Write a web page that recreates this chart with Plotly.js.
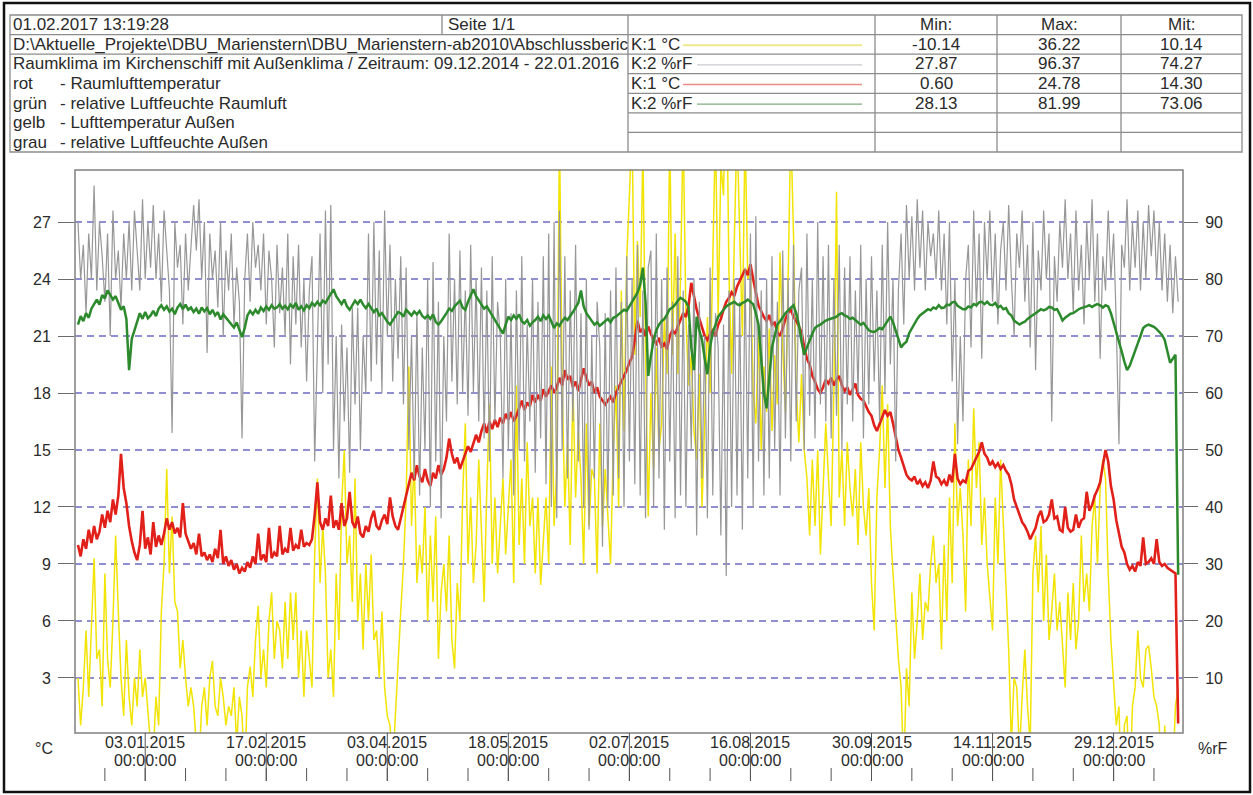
<!DOCTYPE html>
<html>
<head>
<meta charset="utf-8">
<script src="https://cdn.plot.ly/plotly-3.0.1.min.js"></script>
<style>
  html, body { margin: 0; padding: 0; background: #ffffff; }
  #chart { width: 1253px; height: 795px; }
</style>
</head>
<body>
<div id="chart"></div>
<script>
// ---------------- DATA ----------------
// Sampling: all series start 09.12.2014, one value per day.
const seriesStart = '2014-12-09';
const stepDays = 1;

// gelb - Lufttemperatur Außen (°C, left axis)
const tempOutside = [
  3, 0.5, 2.5, 5.5, 2, 6, 9.3, 4, 4.5, 1.5,
  8.5, 4, 2.5, 6, 10.5, 6.5, 3, 1, 5, 2,
  0.5, 3, 1.5, 4.5, 2, 3, 1, -0.5, -1, 2,
  0.5, 6.5, 9, 14, 8.5, 11.5, 7, 6.5, 3.5, 5,
  3, 1.5, 2.5, 1.5, -0.5, -1.5, 1.5, 2.5, 0.5, 3,
  3.9, 1.5, 1, 3, 2, 0.5, 1.5, 1, 2.5, -0.5,
  2, 1, -2, 2.5, 3.6, 2, 5, 6.8, 3, 4.5,
  2.5, 6, 7.5, 4, 6, 5.5, 3.5, 7, 4, 7.5,
  5, 7.5, 3, 5.5, 2, 5.5, 4, 2.5, 9.5, 13.5,
  8, 11, 8.5, 3, 4.5, 2, 8.5, 5, 12, 15,
  9, 10.5, 7, 13.5, 6, 8.5, 4.5, 9, 6, 9.5,
  5, 5.5, 3, 6.5, 2.5, 1, 0.5, -1.5, 1, 4,
  6.5, 9, 12.5, 19.4, 11, 14.5, 8, 10, 8.5, 12,
  6, 10.5, 7, 11.5, 4, 7.5, 9, 6.5, 10.5, 5,
  3.5, 8, 6, 12.5, 16.4, 9, 12.5, 8, 10, 14.5,
  10.5, 7, 13, 17.4, 9, 12.5, 8.5, 11, 13.5, 9.5,
  12, 14.5, 8, 18.4, 10, 13.5, 9, 15.4, 11, 12.5,
  8.5, 12.5, 7.9, 10, 12.5, 9, 19.4, 11, 14, 32,
  18.4, 12, 15.4, 10, 18.4, 12.5, 16, 13.5, 9, 16.4,
  11, 14, 13.5, 8.5, 16.4, 11, 14, 11.5, 9, 15,
  18.4, 12, 23.4, 16, 25, 28.4, 32, 20, 26, 22,
  31, 20, 11.5, 18, 14, 20.4, 15, 16.4, 22, 19,
  32, 20, 26.4, 19, 24, 32, 22, 18.4, 20, 16,
  14.5, 19, 12, 16.4, 22, 18, 24.4, 32, 22, 30,
  28.4, 36.2, 24.4, 19, 26, 32, 26.4, 21, 32, 24,
  24.4, 18, 16.4, 21, 15, 19.4, 17, 21.4, 16, 20,
  17.4, 25.4, 20.4, 17, 24, 32, 26.4, 18.4, 15.4, 19,
  15, 13.5, 10.5, 14.5, 11, 15, 9.5, 13, 16.4, 13.5,
  11, 18, 28.6, 12.5, 15, 11, 15.4, 13, 11.5, 14,
  10, 15.4, 12, 10.5, 13, 8, 5.5, 12.5, 15, 18.4,
  13, 17.4, 11, 8.5, 6, 4, 2.5, -2, 3.5, 1.5,
  7.5, 4, 6, 8.5, 5, 7, 6.5, 9, 10.5, 8,
  9, 4.5, 10, 6, 12.5, 8, 16.4, 11, 13, 10.5,
  6.5, 14.5, 11, 17.2, 13, 15.4, 10, 12.5, 9, 7,
  5.5, 12.5, 9, 14.5, 11, 8, 4.5, -0.5, 3, 2.5,
  -1, 2, 4.5, 1.5, -0.5, 8.5, 10.5, 7.5, 11, 6,
  9.5, 5, 6.5, 8.5, 5.5, 7, 4.5, 2.5, 7.5, 5,
  8, 4.5, 6, 10.5, 7, 8.5, 6.5, 11, 12.5, 9,
  13, 14.5, 13.5, 8.5, 5, 2.5, 0.5, 1.5, -4, 0.5,
  1, -3, 1.5, 2.5, 5.5, 3, 2.5, 4.5, 4.7, 3.5,
  2, 1.5, 0.5, -5, 0.5, -3, -10.1, -2, 1.5, 2.5
];

// grau - relative Luftfeuchte Außen (%rF, right axis)
const rhOutside = [
  90, 80, 86, 74, 88, 80, 96.4, 78, 90, 84,
  76, 88, 70, 92, 80, 85, 75, 88, 80, 90,
  78, 92, 85, 78, 94, 80, 90, 82, 93, 80,
  88, 76, 92, 85, 78, 53, 90, 82, 86, 72,
  88, 78, 85, 93, 85, 94, 80, 90, 67, 88,
  80, 85, 75, 90, 70, 85, 78, 88, 72, 82,
  76, 52, 80, 88, 76, 90, 82, 86, 78, 88,
  72, 85, 80, 68, 86, 74, 82, 70, 88, 65,
  84, 72, 86, 68, 80, 62, 78, 84, 48, 70,
  88, 60, 92, 65, 93, 50, 70, 45, 72, 55,
  68, 46, 75, 58, 75, 50, 70, 60, 88, 62,
  90, 65, 85, 60, 92, 70, 86, 62, 80, 66,
  84, 58, 82, 50, 70, 45, 74, 42, 68, 50,
  80, 40, 83, 48, 76, 38, 70, 55, 88, 62,
  80, 58, 85, 60, 78, 56, 86, 60, 80, 55,
  82, 52, 78, 48, 84, 55, 76, 70, 45, 80,
  50, 74, 42, 78, 50, 84, 48, 72, 55, 80,
  46, 76, 52, 84, 44, 88, 40, 90, 38, 92,
  50, 84, 45, 78, 55, 86, 48, 74, 40, 80,
  36, 70, 45, 76, 68, 33, 74, 40, 78, 42,
  82, 45, 76, 40, 84, 48, 80, 44, 86, 42,
  78, 38, 82, 85, 40, 88, 45, 80, 36, 82,
  48, 76, 38, 84, 42, 78, 40, 72, 50, 80,
  35, 76, 45, 70, 38, 82, 42, 74, 68, 35,
  72, 27.9, 78, 40, 80, 42, 76, 36, 82, 45,
  88, 40, 91, 48, 78, 42, 80, 45, 84, 50,
  76, 42, 85, 52, 80, 48, 86, 55, 78, 82,
  50, 88, 56, 80, 52, 90, 58, 84, 55, 86,
  52, 80, 56, 86, 50, 82, 58, 84, 55, 78,
  60, 86, 52, 80, 58, 84, 62, 78, 55, 86,
  60, 90, 65, 80, 48, 78, 88, 72, 93, 80,
  91, 78, 94, 82, 92, 78, 90, 84, 88, 80,
  92, 78, 88, 72, 90, 62, 80, 51, 70, 55,
  80, 86, 68, 92, 75, 88, 66, 90, 80, 92,
  76, 88, 72, 85, 90, 78, 93, 80, 70, 88,
  82, 92, 76, 86, 68, 90, 64, 85, 78, 92,
  80, 88, 55, 84, 76, 90, 82, 94, 80, 88,
  74, 92, 78, 86, 72, 90, 80, 94, 76, 88,
  66, 84, 78, 92, 80, 88, 72, 51, 86, 82,
  94, 78, 90, 82, 92, 78, 90, 80, 93, 84,
  92, 80, 90, 78, 88, 76, 86, 74, 84, 76
];

// rot - Raumlufttemperatur (°C, left axis)
const tempInside = [
  10.0, 9.4, 10.3, 9.8, 10.8, 10.1, 11.0, 10.3, 10.7, 11.6,
  10.9, 11.8, 11.2, 12.4, 11.6, 12.6, 14.8, 13.0, 12.2, 11.0,
  10.2, 9.6, 9.2, 10.0, 11.8, 9.8, 10.4, 9.5, 11.2, 9.9,
  10.5, 10.0, 10.6, 11.4, 10.8, 11.2, 10.6, 10.9, 10.4, 12.2,
  10.6, 10.2, 9.8, 10.1, 9.5, 10.6, 9.4, 9.6, 9.2, 9.5,
  9.1, 9.8, 9.3, 10.8, 9.0, 9.4, 8.9, 9.2, 8.7, 9.0,
  8.5, 8.8, 8.6, 9.1, 8.8, 9.4, 9.0, 10.6, 9.2, 9.5,
  9.1, 10.9, 9.3, 9.6, 9.4, 11.0, 9.5, 9.8, 9.6, 10.9,
  9.7, 10.0, 9.8, 10.8, 9.9, 10.1, 10.0, 10.3, 11.6, 13.3,
  11.2, 10.8, 11.4, 11.0, 12.6, 10.9, 11.3, 10.8, 12.2, 11.0,
  11.4, 12.8, 11.2, 10.9, 11.5, 10.6, 10.4, 11.0, 10.7, 11.4,
  11.8, 11.0, 10.8, 11.3, 11.6, 11.1, 12.5, 11.5, 11.0, 10.8,
  11.4, 12.0, 12.6, 13.2, 13.8, 13.4, 14.2, 13.6, 13.3, 14.0,
  13.4, 13.1, 13.8, 13.5, 14.2, 13.7, 14.0, 14.6, 15.6, 14.8,
  14.3, 14.6, 14.0, 14.4, 14.8, 15.2, 14.9, 15.4, 15.8, 15.4,
  16.0, 16.4, 15.9, 16.5, 16.1, 16.6, 16.2, 16.7, 16.4, 16.9,
  16.6, 17.0, 16.5, 16.8, 17.2, 17.6, 17.1, 17.5, 17.3, 17.9,
  17.5, 17.9, 17.6, 18.2, 17.8, 18.1, 18.4, 18.0, 18.3, 18.8,
  18.4, 19.2, 18.7, 18.9, 18.3, 18.6, 18.1, 18.7, 19.3, 18.8,
  18.4, 18.6, 18.0, 18.3, 17.8, 17.6, 17.4, 17.6, 17.8, 17.5,
  18.0, 18.3, 18.6, 18.9, 19.2, 19.6, 19.9, 20.8, 21.8, 21.2,
  21.4, 21.0, 21.5, 21.1, 20.8, 20.6, 20.9, 20.4, 20.6, 20.3,
  21.0, 21.3, 21.1, 21.5, 21.9, 22.2, 22.0, 22.6, 23.8, 23.0,
  22.4, 21.9, 21.4, 21.0, 20.8, 21.1, 21.3, 21.0, 21.6, 21.9,
  22.4, 22.8, 23.0, 23.3, 23.1, 23.6, 23.9, 24.2, 24.5, 24.2,
  24.78, 24.0, 23.2, 22.6, 22.3, 22.0, 21.8, 22.1, 21.6, 21.7,
  21.2, 21.0, 21.4, 21.9, 22.2, 22.4, 22.0, 21.8, 21.5, 21.2,
  20.4, 19.8, 19.5, 18.9, 18.6, 18.2, 18.0, 18.3, 18.7, 18.5,
  18.8, 18.4, 18.7, 18.9, 18.4, 18.1, 18.3, 17.9, 18.2, 18.5,
  17.9, 17.7, 17.6, 17.3, 17.0, 16.8, 16.3, 16.0, 16.4, 16.8,
  17.1, 16.8, 17.0, 16.4, 15.6, 15.0, 14.6, 14.2, 13.7, 13.5,
  13.4, 13.6, 13.2, 13.4, 13.1, 13.3, 13.0, 13.4, 14.4, 13.6,
  13.5, 13.2, 13.4, 13.1, 13.7, 13.3, 14.8, 13.5, 13.2, 13.4,
  13.3, 13.9, 14.0, 14.3, 14.6, 14.9, 15.4, 14.8, 14.6, 14.2,
  14.4, 14.1, 14.3, 14.0, 14.2, 13.9, 13.7, 13.2, 12.4, 12.0,
  11.6, 11.2, 11.0, 10.7, 10.3, 10.6, 10.9, 11.5, 11.8, 11.2,
  11.3, 11.6, 12.4, 11.4, 11.5, 10.8, 10.7, 12.0, 10.9, 10.7,
  10.8, 11.6, 10.9, 11.3, 11.4, 12.8, 11.8, 12.1, 12.6, 12.9,
  13.3, 14.2, 15.0, 14.4, 13.1, 12.4, 11.3, 10.6, 9.9, 9.6,
  9.0, 8.7, 8.9, 8.6, 9.1, 8.9, 10.4, 9.0, 9.1, 9.3,
  9.0, 10.3, 9.1, 8.9, 9.0, 8.8, 8.7, 8.6, 8.5, 0.6
];

// grün - relative Luftfeuchte Raumluft (%rF, right axis)
const rhInside = [
  72.0, 73.5, 72.6, 74.0, 73.2, 74.8, 75.6, 76.4, 75.5, 77.2,
  76.6, 78.0, 77.2, 76.4, 77.0, 75.8, 74.6, 75.2, 73.0, 64.0,
  69.5, 71.0, 72.4, 74.0, 73.0, 74.2, 73.1, 73.6, 74.4, 73.5,
  74.8, 75.4, 74.6, 75.2, 74.3, 74.8, 73.8, 75.0, 75.6, 74.7,
  75.5, 74.6, 75.0, 74.2, 74.8, 73.9, 75.0, 74.3, 74.9, 73.8,
  74.6, 73.6, 74.2, 72.9, 73.8, 73.2, 72.6, 72.0, 71.5, 72.4,
  71.0, 69.8, 71.4, 73.6, 74.4, 73.8, 74.6, 73.9, 75.0, 74.4,
  75.2, 74.6, 75.4, 74.8, 75.0, 75.6, 74.8, 75.3, 74.7, 75.5,
  75.0, 75.8, 74.6, 75.2, 74.5, 75.4, 74.9, 75.8, 75.3, 76.0,
  75.4, 76.2, 75.8, 76.6, 77.2, 78.2, 77.0, 76.2, 75.6, 76.4,
  75.2, 74.6, 75.4, 76.2, 75.6, 76.4, 75.5, 74.9, 75.6, 74.8,
  74.2, 74.8, 73.6, 74.0, 73.2, 72.5, 72.0, 72.8, 73.6, 74.2,
  74.0, 73.4, 74.6, 74.1, 73.6, 74.3, 73.8, 74.4, 73.5, 73.1,
  73.6, 73.0, 73.8, 72.5, 72.0, 72.6, 73.2, 74.0, 74.8, 74.4,
  75.2, 75.8, 76.2, 75.0, 74.6, 76.0, 77.0, 78.2, 77.0, 76.2,
  75.6, 74.8, 75.2, 74.4, 73.6, 72.8, 72.0, 71.0, 70.4, 72.0,
  73.4, 72.8, 73.6, 73.0, 73.8, 72.6, 72.2, 72.8, 71.8, 72.4,
  72.8, 73.4, 72.6, 73.6, 73.0, 73.6, 72.4, 71.4, 72.2, 71.8,
  72.6, 73.2, 72.8, 73.4, 74.2, 75.0, 75.8, 78.0, 75.2, 74.0,
  73.4, 72.6, 72.0, 72.4, 71.8, 72.2, 72.6, 73.0, 72.4, 73.2,
  73.4, 73.8, 74.2, 74.6, 74.4, 75.2, 76.0, 76.8, 77.6, 79.0,
  82.0, 76.0, 63.0, 66.5, 69.3, 71.0, 72.0, 72.6, 73.0, 73.8,
  74.7, 75.0, 75.5, 76.2, 76.7, 76.4, 76.0, 75.0, 68.0, 64.0,
  73.4, 71.0, 69.3, 66.0, 63.3, 68.0, 70.7, 72.0, 73.4, 74.0,
  74.7, 75.2, 75.5, 75.8, 76.0, 75.6, 75.4, 75.8, 76.0, 76.4,
  76.0, 75.6, 74.0, 72.0, 66.0, 60.0, 57.3, 62.0, 68.0, 70.0,
  72.0, 72.6, 73.4, 74.0, 74.5, 75.0, 75.4, 74.0, 72.0, 69.0,
  66.7, 68.0, 69.3, 70.4, 71.4, 71.8, 72.0, 72.4, 72.7, 72.9,
  73.0, 73.2, 73.4, 73.8, 74.0, 73.6, 73.4, 73.0, 73.2, 72.8,
  72.5, 72.0, 72.3, 71.6, 71.0, 70.8, 70.7, 71.0, 71.4, 71.2,
  72.0, 72.8, 73.4, 72.4, 71.0, 69.5, 68.0, 68.6, 69.0, 70.5,
  71.4, 72.2, 73.0, 73.6, 74.0, 74.4, 74.7, 74.5, 75.0, 74.8,
  75.4, 74.9, 75.0, 75.5, 75.4, 75.9, 76.0, 75.3, 75.0, 74.7,
  74.7, 75.2, 75.0, 75.6, 75.4, 75.9, 76.0, 75.6, 76.0, 75.5,
  75.4, 75.8, 75.0, 75.3, 74.7, 74.9, 74.0, 73.6, 72.7, 72.4,
  72.0, 72.3, 72.5, 73.0, 73.4, 73.7, 74.0, 74.4, 74.7, 74.5,
  74.7, 75.1, 75.0, 74.6, 74.7, 73.8, 72.7, 73.2, 73.5, 73.9,
  74.0, 74.4, 74.7, 74.9, 75.0, 75.2, 75.4, 75.1, 75.4, 75.6,
  75.4, 75.0, 75.4, 75.2, 74.0, 72.4, 70.7, 69.0, 67.3, 65.5,
  64.0, 64.8, 66.0, 67.2, 68.7, 70.0, 71.4, 71.8, 72.0, 71.8,
  71.6, 71.2, 70.7, 70.2, 69.3, 67.5, 65.3, 66.0, 66.7, 28.1
];

// Axis ticks and labels
const leftTicks = [3, 6, 9, 12, 15, 18, 21, 24, 27];
const rightTicks = [10, 20, 30, 40, 50, 60, 70, 80, 90];
const xTickDates = ['2015-01-03', '2015-02-17', '2015-04-03', '2015-05-18', '2015-07-02',
                    '2015-08-16', '2015-09-30', '2015-11-14', '2015-12-29'];
const xTickDateLabels = ['03.01.2015', '17.02.2015', '03.04.2015', '18.05.2015', '02.07.2015',
                         '16.08.2015', '30.09.2015', '14.11.2015', '29.12.2015'];
const xTickTimeLabel = '00:00:00';
const minorTickFirst = '2014-12-19';
const minorTickLast = '2016-01-13';

// Header table texts
const headerDate = '01.02.2017 13:19:28';
const headerPage = 'Seite 1/1';
const headerPath = 'D:\\Aktuelle_Projekte\\DBU_Marienstern\\DBU_Marienstern-ab2010\\Abschlussberic';
const headerTitle = 'Raumklima im Kirchenschiff mit Außenklima / Zeitraum: 09.12.2014 - 22.01.2016';
const legendNames = ['rot', 'grün', 'gelb', 'grau'];
const legendTexts = ['- Raumlufttemperatur', '- relative Luftfeuchte Raumluft',
                     '- Lufttemperatur Außen', '- relative Luftfeuchte Außen'];
const statHeaders = ['Min:', 'Max:', 'Mit:'];
const statChannels = ['K:1 °C', 'K:2 %rF', 'K:1 °C', 'K:2 %rF'];
const statMin = ['-10.14', '27.87', '0.60', '28.13'];
const statMax = ['36.22', '96.37', '24.78', '81.99'];
const statMean = ['10.14', '74.27', '14.30', '73.06'];

// ---------------- BUILD ----------------
const DAY = 86400000;
function dateAt(startIso, dayOffset) {
  const p = startIso.split('-').map(Number);
  const t = Date.UTC(p[0], p[1] - 1, p[2]) + dayOffset * DAY;
  return new Date(t).toISOString().slice(0, 19).replace('T', ' ');
}
function xs(n) { const a = []; for (let i = 0; i < n; i++) a.push(dateAt(seriesStart, i * stepDays)); return a; }

const W = 1253, H = 795;
const PL = 75, PR = 1183, PT = 170, PB = 733;
const px = v => (v - PL) / (PR - PL);
const py = v => (PB - v) / (PB - PT);

const colGray = '#979797', colYellow = '#f2e406', colRed = '#e2201a', colGreen = '#2c8a2c';

const traces = [
  { x: xs(rhOutside.length), y: rhOutside, yaxis: 'y2', type: 'scatter', mode: 'lines',
    line: { color: colGray, width: 1.2 } },
  { x: xs(tempOutside.length), y: tempOutside, yaxis: 'y', type: 'scatter', mode: 'lines',
    line: { color: colYellow, width: 1.5 } },
  { x: xs(tempInside.length), y: tempInside, yaxis: 'y', type: 'scatter', mode: 'lines',
    line: { color: colRed, width: 2.6 } },
  { x: xs(rhInside.length), y: rhInside, yaxis: 'y2', type: 'scatter', mode: 'lines',
    line: { color: colGreen, width: 2.5 } }
];

const shapes = [];
const annotations = [];
const FONT = 'Liberation Sans, Arial, sans-serif';
const headFont = { family: FONT, size: 17, color: '#2a2a2a' };
const tickFont = { family: FONT, size: 16, color: '#2a2a2a' };
const tableLine = { color: '#8c8c8c', width: 1.3 };

function hline(x0, x1, y, line) {
  shapes.push({ type: 'line', xref: 'paper', yref: 'paper', x0: px(x0), x1: px(x1), y0: py(y), y1: py(y), line: line });
}
function vline(x, y0, y1, line) {
  shapes.push({ type: 'line', xref: 'paper', yref: 'paper', x0: px(x), x1: px(x), y0: py(y0), y1: py(y1), line: line });
}
function text(x, y, s, anchor, font) {
  annotations.push({ xref: 'paper', yref: 'paper', x: px(x), y: py(y), text: s, showarrow: false,
    xanchor: anchor || 'left', yanchor: 'middle', font: font || headFont });
}

// outer black border
shapes.push({ type: 'rect', xref: 'paper', yref: 'paper', x0: px(4), x1: px(1250), y0: py(3), y1: py(792),
  line: { color: '#111', width: 2.5 } });

// header table
const rowY = [15, 34.6, 54.1, 73.7, 93.3, 112.9, 132.4, 152];
shapes.push({ type: 'rect', xref: 'paper', yref: 'paper', x0: px(10), x1: px(1242), y0: py(15), y1: py(152), line: tableLine });
hline(10, 1242, rowY[1], tableLine);
hline(10, 1242, rowY[2], tableLine);
for (let i = 3; i < 7; i++) hline(628, 1242, rowY[i], tableLine);
vline(442, 15, rowY[1], tableLine);
vline(628, 15, 152, tableLine);
vline(875, 15, 152, tableLine);
vline(997, 15, 152, tableLine);
vline(1121, 15, 152, tableLine);

const rowC = i => (rowY[i] + rowY[i + 1]) / 2;
text(11, rowC(0), headerDate);
text(446, rowC(0), headerPage);
text(11, rowC(1), headerPath);
text(11, rowC(2), headerTitle);
for (let i = 0; i < 4; i++) {
  text(11, rowC(3 + i), legendNames[i]);
  text(58, rowC(3 + i), legendTexts[i]);
}
const colCenters = [936, 1059, 1181.5];
for (let c = 0; c < 3; c++) text(colCenters[c], rowC(0), statHeaders[c], 'center');
const legendLineColors = ['#eee98c', '#c9cbd0', '#ec8a86', '#7fae7f'];
const legendLineStart = [683, 697, 683, 697];
for (let r = 0; r < 4; r++) {
  text(629, rowC(1 + r), statChannels[r]);
  text(colCenters[0], rowC(1 + r), statMin[r], 'center');
  text(colCenters[1], rowC(1 + r), statMax[r], 'center');
  text(colCenters[2], rowC(1 + r), statMean[r], 'center');
  hline(legendLineStart[r], 862, rowC(1 + r) + 1, { color: legendLineColors[r], width: r === 0 ? 2 : 1.3 });
}

// plot frame
shapes.push({ type: 'rect', xref: 'paper', yref: 'paper', x0: 0, x1: 1, y0: 0, y1: 1, layer: 'above',
  line: { color: '#808080', width: 1.5 } });

// x-axis ticks (axis furniture placed on the date axis)
const tickLine = { color: '#555', width: 1 };
xTickDates.forEach((d, i) => {
  shapes.push({ type: 'line', xref: 'x', yref: 'paper', x0: d, x1: d, y0: py(733), y1: py(781), line: tickLine });
  annotations.push({ xref: 'x', yref: 'paper', x: d, y: py(742), text: xTickDateLabels[i], showarrow: false,
    xanchor: 'center', yanchor: 'middle', font: tickFont });
  annotations.push({ xref: 'x', yref: 'paper', x: d, y: py(760), text: xTickTimeLabel, showarrow: false,
    xanchor: 'center', yanchor: 'middle', font: tickFont });
});
{
  const p0 = minorTickFirst.split('-').map(Number), p1 = minorTickLast.split('-').map(Number);
  const t0 = Date.UTC(p0[0], p0[1] - 1, p0[2]), t1 = Date.UTC(p1[0], p1[1] - 1, p1[2]);
  for (let t = t0; t <= t1; t += 15 * DAY) {
    const d = new Date(t).toISOString().slice(0, 10);
    shapes.push({ type: 'line', xref: 'x', yref: 'paper', x0: d, x1: d, y0: py(768), y1: py(781), line: tickLine });
  }
}
text(44, 748, '°C', 'center', tickFont);
text(1213, 748, '%rF', 'center', tickFont);

const layout = {
  width: W, height: H,
  margin: { l: PL, r: W - PR, t: PT, b: H - PB, pad: 0 },
  paper_bgcolor: '#ffffff', plot_bgcolor: '#ffffff',
  showlegend: false, hovermode: false,
  font: tickFont,
  xaxis: {
    type: 'date', range: ['2014-12-07 21:36', '2016-01-23 19:12'],
    showgrid: false, showticklabels: false, ticks: '', zeroline: false, showline: false
  },
  yaxis: {
    range: [0.1, 29.74], tickvals: leftTicks, ticktext: leftTicks.map(String),
    ticks: 'outside', ticklen: 16, tickcolor: '#6a6a6a', tickwidth: 1,
    showgrid: true, gridcolor: '#8f8fd2', griddash: '7px,5px', gridwidth: 1.3,
    zeroline: false, showline: false, tickfont: tickFont, ticklabelstandoff: 4
  },
  yaxis2: {
    overlaying: 'y', side: 'right', range: [0.333, 99.13], tickvals: rightTicks, ticktext: rightTicks.map(String),
    ticks: 'outside', ticklen: 14, tickcolor: '#6a6a6a', tickwidth: 1,
    showgrid: false, zeroline: false, showline: false, tickfont: tickFont, ticklabelstandoff: 4
  },
  shapes: shapes,
  annotations: annotations
};

Plotly.newPlot('chart', traces, layout, { displayModeBar: false, staticPlot: true });
</script>
</body>
</html>
